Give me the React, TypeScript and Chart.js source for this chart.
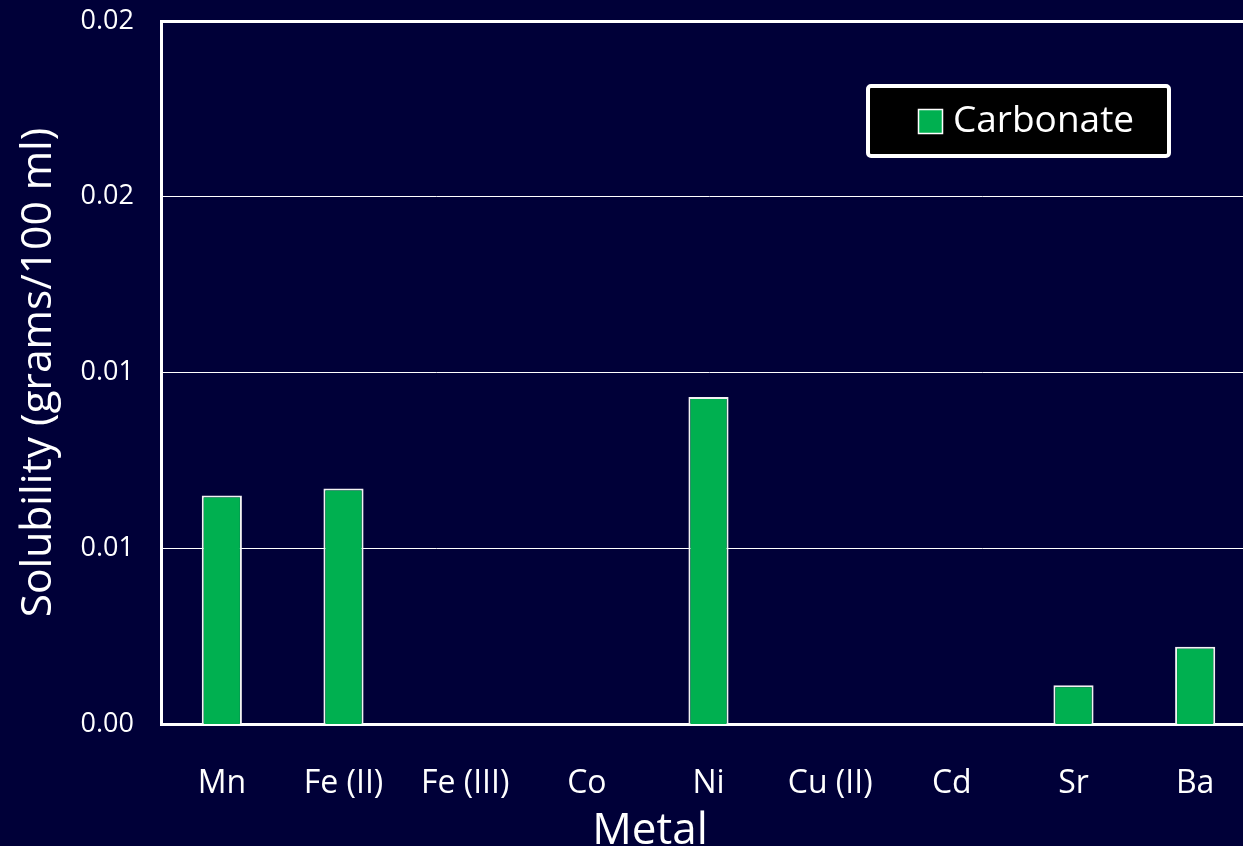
import { useEffect, useRef } from "react";
import { Chart, registerables } from "chart.js";

Chart.register(...registerables);

// Solubility of metal carbonates in water (g / 100 ml)
const metals = ["Mn", "Fe (II)", "Fe (III)", "Co", "Ni", "Cu (II)", "Cd", "Sr", "Ba"];
const carbonate: (number | null)[] = [0.0065, 0.0067, null, null, 0.0093, null, null, 0.0011, 0.0022];
const yTickValues = [0, 0.005, 0.01, 0.015, 0.02];
const yTickLabels = ["0.00", "0.01", "0.01", "0.02", "0.02"];

const SERIES_LABEL = "Carbonate";
const Y_TITLE = "Solubility (grams/100 ml)";
const X_TITLE = "Metal";

const BG = "#000038";
const GREEN = "#00B050";
const FONT = "'Open Sans', 'DejaVu Sans', sans-serif";

const CANVAS_W = 1258;
const CANVAS_H = 846;

// Legend box drawn inside the plot, top right
const legendBox = {
  id: "legendBox",
  afterDraw(chart: Chart) {
    const ctx = chart.ctx;
    const ds = chart.data.datasets[0];
    ctx.save();
    const x = 868, y = 86, w = 301, h = 70;
    ctx.beginPath();
    (ctx as any).roundRect(x, y, w, h, 3);
    ctx.fillStyle = "#000000";
    ctx.fill();
    ctx.lineWidth = 4;
    ctx.strokeStyle = "#ffffff";
    ctx.stroke();
    // swatch
    ctx.fillStyle = ds.backgroundColor as string;
    ctx.fillRect(918.5, 109.5, 24, 24);
    ctx.lineWidth = 1.5;
    ctx.strokeStyle = "#ffffff";
    ctx.strokeRect(918.5, 109.5, 24, 24);
    // label
    ctx.fillStyle = "#ffffff";
    ctx.font = `37px ${FONT}`;
    ctx.textBaseline = "middle";
    ctx.textAlign = "left";
    ctx.fillText(String(ds.label), 953, 121);
    ctx.restore();
  },
};

// Horizontal axis title
const xTitle = {
  id: "xTitle",
  afterDraw(chart: Chart) {
    const ctx = chart.ctx;
    ctx.save();
    ctx.fillStyle = "#ffffff";
    ctx.font = `44px ${FONT}`;
    ctx.textAlign = "center";
    ctx.textBaseline = "alphabetic";
    ctx.fillText(X_TITLE, 650, 844);
    ctx.restore();
  },
};

export default function App() {
  const ref = useRef<HTMLCanvasElement>(null);

  useEffect(() => {
    if (!ref.current) return;
    const chart = new Chart(ref.current, {
      type: "bar",
      data: {
        labels: metals,
        datasets: [
          {
            label: SERIES_LABEL,
            data: carbonate,
            backgroundColor: GREEN,
            borderColor: "#f2f2f2",
            borderWidth: 2,
            barPercentage: 0.33,
            categoryPercentage: 1,
          },
        ],
      },
      plugins: [legendBox, xTitle],
      options: {
        animation: false,
        responsive: false,
        devicePixelRatio: 1,
        layout: { padding: { top: 21, right: 2, bottom: 0, left: 0 } },
        plugins: {
          legend: { display: false },
          tooltip: { enabled: false },
        },
        scales: {
          x: {
            afterFit: (s: any) => {
              s.height = 122;
              s.paddingLeft = 0;
              s.paddingRight = 0;
            },
            grid: { display: false, drawTicks: false },
            border: { color: "#ffffff", width: 3 },
            ticks: {
              color: "#ffffff",
              font: { family: FONT, size: 32 },
              padding: 41,
              maxRotation: 0,
              autoSkip: false,
            },
          },
          y: {
            min: 0,
            max: 0.02,
            afterFit: (s: any) => {
              s.width = 161;
              s.paddingTop = 0;
              s.paddingBottom = 0;
            },
            afterBuildTicks: (s: any) => {
              s.ticks = yTickValues.map((v) => ({ value: v }));
            },
            grid: {
              color: "#ffffff",
              drawTicks: false,
              lineWidth: (c: any) => (c.index === 4 ? 3 : c.index === 0 ? 0 : 1),
            },
            border: { color: "#ffffff", width: 3 },
            ticks: {
              color: "#ffffff",
              font: { family: FONT, size: 27 },
              padding: 27,
              callback: (_v: any, i: number) => yTickLabels[i],
            },
            title: {
              display: true,
              text: Y_TITLE,
              color: "#ffffff",
              font: { family: FONT, size: 42.5 },
              padding: { top: 13, bottom: 0 },
            },
          },
        },
      },
    });
    return () => chart.destroy();
  }, []);

  return (
    <div
      style={{
        position: "fixed",
        left: 0,
        top: 0,
        width: 1243,
        height: 846,
        overflow: "hidden",
        background: BG,
      }}
    >
      <canvas ref={ref} width={CANVAS_W} height={CANVAS_H} style={{ display: "block" }} />
    </div>
  );
}
